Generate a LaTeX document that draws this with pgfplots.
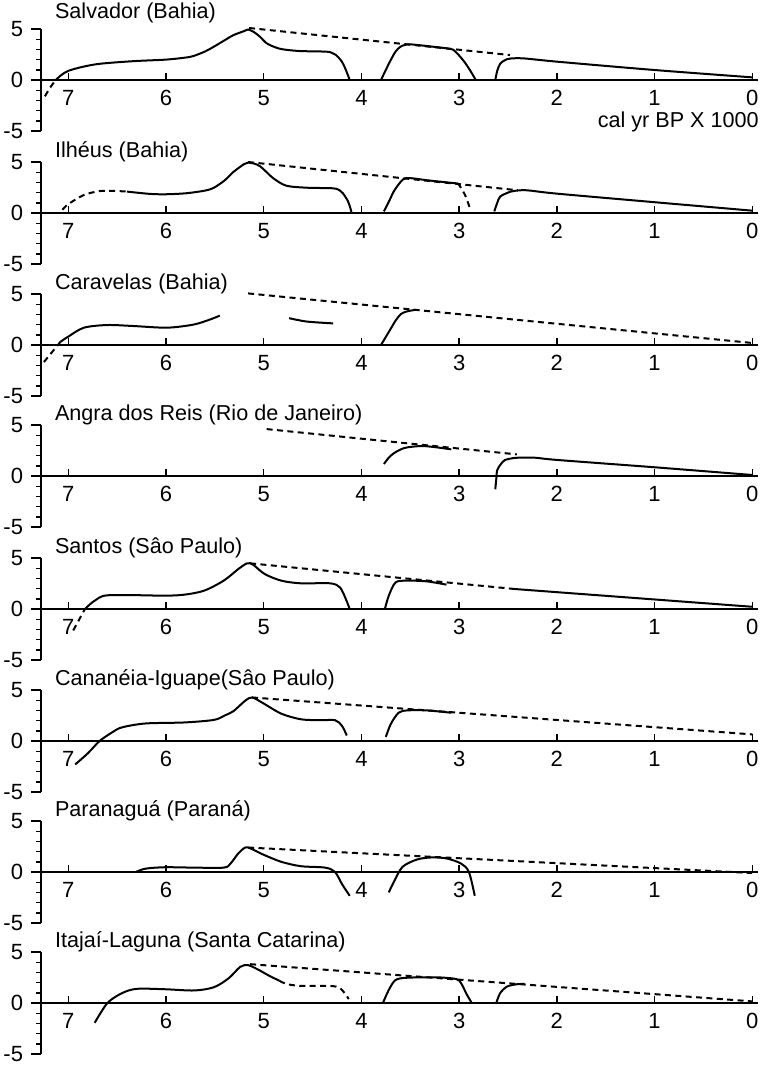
\documentclass[border=0pt]{standalone}
\usepackage{fontspec}
\setmainfont{Liberation Sans}
\usepackage{pgfplots}
\pgfplotsset{compat=1.18}
\pgfplotsset{
  panel/.style={x=48.85pt, y=5.1pt, x dir=reverse,
    xmin=-0.06, xmax=7.28, ymin=-5, ymax=5,
    axis lines=none, ticks=none, clip=false, anchor=south west},
  sol/.style={black, line width=1pt, smooth, tension=0.5, no marks},
  das/.style={sol, dash pattern=on 3pt off 2.2pt},
}
\newcommand\tickfont{\fontsize{11}{12}\selectfont}
\newcommand\titlefont{\fontsize{10.8}{12}\selectfont}
\newcommand\frameit[2]{%
  \draw[line width=0.95pt] (axis cs:7.28,-5) -- (axis cs:7.28,5);
  \draw[line width=0.95pt] (axis cs:7.3824,0) -- (axis cs:-0.06,0);
  \draw[line width=0.95pt] (axis cs:7.28,5) -- (axis cs:7.3824,5);
  \draw[line width=0.95pt] (axis cs:7.28,-5) -- (axis cs:7.3824,-5);
  \pgfplotsinvokeforeach{-4,-3,-2,-1,1,2,3,4}{\draw[line width=0.7pt] (axis cs:7.28,##1) -- (axis cs:7.335,##1);}
  \pgfplotsinvokeforeach{0,1,2,3,4,5,6,7}{%
    \draw[line width=0.7pt] (axis cs:##1,0) -- (axis cs:##1,0.7);
    \node[anchor=north, inner sep=0, font=\tickfont] at (axis cs:##1,-0.98) {##1};}
  \node[anchor=east, inner sep=0, font=\tickfont] at (axis cs:7.46,5) {5};
  \node[anchor=east, inner sep=0, font=\tickfont] at (axis cs:7.46,0) {0};
  \node[anchor=east, inner sep=0, font=\tickfont] at (axis cs:7.46,-5) {-5};
  \node[anchor=base west, inner sep=0, font=\titlefont] at (axis cs:7.14,#2) {#1};
}
\begin{document}
\begin{tikzpicture}
% ---------- 1 Salvador
\begin{axis}[panel, at={(20.5pt,-65.5pt)}]
\frameit{Salvador (Bahia)}{6.0}
\node[anchor=base east, inner sep=0, font=\titlefont] at (axis cs:-0.07,-4.7) {cal yr BP X 1000};
\addplot[das] coordinates {(7.24,-1.6) (7.19,-0.8) (7.13,0)};
\addplot[sol] coordinates {(7.13,0) (7.07,0.5) (7.0,0.9) (6.85,1.3) (6.67,1.6) (6.33,1.85) (6.0,2.0) (5.8,2.2) (5.72,2.35) (5.6,2.8) (5.51,3.27) (5.4,3.9) (5.31,4.4) (5.2,4.8) (5.16,4.95) (5.1,4.7) (5.04,4.25) (4.97,3.6) (4.88,3.2) (4.80,3.0) (4.63,2.84) (4.36,2.78) (4.3,2.65) (4.26,2.45) (4.2,1.8) (4.16,1.0) (4.12,0)};
\addplot[das] coordinates {(5.15,5.1) (2.48,2.45)};
\addplot[sol] coordinates {(3.80,0) (3.75,1.0) (3.70,1.96) (3.65,2.8) (3.60,3.27) (3.55,3.45) (3.50,3.5) (3.3,3.3) (3.09,3.05) (3.04,2.8) (2.99,2.29) (2.94,1.7) (2.89,0.98) (2.86,0.5) (2.83,0)};
\addplot[sol] coordinates {(2.63,0) (2.61,0.9) (2.58,1.6) (2.53,1.95) (2.48,2.1) (2.34,2.12) (2.0,1.8) (1.0,0.98) (0.0,0.26)};
\end{axis}
% ---------- 2 Ilheus
\begin{axis}[panel, at={(20.5pt,-132pt)}]
\frameit{Ilhéus (Bahia)}{5.4}
\addplot[das] coordinates {(7.06,0.32) (7.0,0.87) (6.84,1.77) (6.67,2.16) (6.5,2.15) (6.40,2.1)};
\addplot[sol] coordinates {(6.40,2.1) (6.16,1.87) (5.99,1.84) (5.79,1.94) (5.6,2.2) (5.51,2.48) (5.4,3.2) (5.31,4.03) (5.2,4.8) (5.16,4.94) (5.1,4.85) (5.04,4.6) (4.97,4.0) (4.90,3.39) (4.77,2.68) (4.56,2.48) (4.29,2.42) (4.22,2.2) (4.19,1.94) (4.14,1.2) (4.12,0.7) (4.10,0)};
\addplot[das] coordinates {(5.16,5.0) (2.40,2.23)};
\addplot[sol] coordinates {(3.77,0.16) (3.72,1.1) (3.67,2.1) (3.62,2.8) (3.57,3.32) (3.5,3.42) (3.3,3.18) (3.02,2.9)};
\addplot[das] coordinates {(3.02,2.9) (3.0,2.74) (2.94,1.77) (2.89,0.48)};
\addplot[sol] coordinates {(2.64,0.16) (2.61,1.0) (2.58,1.61) (2.50,2.0) (2.44,2.16) (2.31,2.23) (2.0,1.9) (1.0,1.06) (0.0,0.23)};
\end{axis}
% ---------- 3 Caravelas
\begin{axis}[panel, at={(20.5pt,-198pt)}]
\frameit{Caravelas (Bahia)}{5.4}
\addplot[das] coordinates {(7.25,-1.67) (7.08,0.32)};
\addplot[sol] coordinates {(7.08,0.32) (7.0,0.83) (6.84,1.7) (6.6,1.96) (6.33,1.86) (5.99,1.7) (5.72,2.0) (5.55,2.5) (5.45,2.88)};
\addplot[sol] coordinates {(4.74,2.63) (4.56,2.3) (4.29,2.12)};
\addplot[das] coordinates {(5.16,5.06) (0.0,0.2)};
\addplot[sol] coordinates {(3.80,0) (3.75,0.8) (3.70,1.6) (3.65,2.4) (3.60,3.0) (3.55,3.25) (3.48,3.4) (3.44,3.45)};
\end{axis}
% ---------- 4 Angra
\begin{axis}[panel, at={(20.5pt,-263.5pt)}]
\frameit{Angra dos Reis (Rio de Janeiro)}{5.4}
\addplot[das] coordinates {(4.97,4.6) (2.41,2.12)};
\addplot[sol] coordinates {(3.77,1.18) (3.72,1.8) (3.67,2.22) (3.60,2.6) (3.53,2.81) (3.38,2.94) (3.23,2.81) (3.08,2.61)};
\addplot[sol] coordinates {(2.63,-1.3) (2.62,-0.3) (2.61,0.59) (2.57,1.2) (2.53,1.57) (2.45,1.75) (2.38,1.8) (2.23,1.8) (1.99,1.57) (0.99,0.85) (0.0,0.1)};
\end{axis}
% ---------- 5 Santos
\begin{axis}[panel, at={(20.5pt,-330pt)}]
\frameit{Santos (Sâo Paulo)}{5.4}
\addplot[das] coordinates {(6.95,-2.1) (6.89,-1.05) (6.83,0)};
\addplot[sol] coordinates {(6.83,0) (6.78,0.45) (6.73,0.82) (6.63,1.31) (6.4,1.37) (6.01,1.31) (5.81,1.41) (5.61,1.8) (5.41,2.78) (5.26,3.92) (5.17,4.48) (5.11,4.35) (4.99,3.43) (4.82,2.78) (4.62,2.52) (4.32,2.52) (4.22,2.12) (4.16,0.98) (4.12,0)};
\addplot[das] coordinates {(5.14,4.48) (2.43,1.96)};
\addplot[sol] coordinates {(3.76,0) (3.72,1.31) (3.65,2.61) (3.53,2.78) (3.33,2.71) (3.13,2.39)};
\addplot[sol] coordinates {(2.43,1.96) (0.0,0.22)};
\end{axis}
% ---------- 6 Cananeia
\begin{axis}[panel, at={(20.5pt,-396pt)}]
\frameit{Cananéia-Iguape(Sâo Paulo)}{5.4}
\addplot[sol] coordinates {(6.93,-2.3) (6.80,-1.2) (6.68,0) (6.55,0.86) (6.45,1.34) (6.21,1.72) (5.81,1.82) (5.51,2.07) (5.40,2.5) (5.31,2.93) (5.19,3.95) (5.12,4.27) (5.01,3.73) (4.82,2.68) (4.62,2.13) (4.42,2.04) (4.27,2.04) (4.20,1.5) (4.15,0.54)};
\addplot[das] coordinates {(5.12,4.27) (0.0,0.65)};
\addplot[sol] coordinates {(3.75,0.4) (3.70,1.66) (3.62,2.77) (3.53,3.0) (3.33,3.0) (3.08,2.77)};
\end{axis}
% ---------- 7 Paranagua
\begin{axis}[panel, at={(20.5pt,-461.5pt)}]
\frameit{Paranaguá (Paraná)}{5.4}
\addplot[sol] coordinates {(6.31,0) (6.21,0.33) (6.01,0.47) (5.71,0.43) (5.41,0.43) (5.34,0.83) (5.26,1.83) (5.19,2.4) (5.14,2.33) (5.01,1.73) (4.82,1.0) (4.62,0.57) (4.37,0.43) (4.27,0) (4.20,-1.17) (4.12,-2.33)};
\addplot[das] coordinates {(5.16,2.4) (0.0,-0.1)};
\addplot[sol] coordinates {(3.72,-2.0) (3.67,-1.0) (3.58,0.5) (3.43,1.23) (3.28,1.43) (3.13,1.33) (2.98,0.83) (2.90,0) (2.84,-2.33)};
\end{axis}
% ---------- 8 Itajai
\begin{axis}[panel, at={(20.5pt,-527pt)}]
\frameit{Itajaí-Laguna (Santa Catarina)}{5.4}
\addplot[sol] coordinates {(6.73,-1.94) (6.60,0) (6.45,0.97) (6.30,1.39) (6.01,1.35) (5.71,1.23) (5.51,1.55) (5.36,2.42) (5.24,3.55) (5.16,3.71) (5.06,3.29) (4.94,2.65) (4.84,2.19)};
\addplot[das] coordinates {(4.84,2.19) (4.77,1.87) (4.62,1.68) (4.32,1.68) (4.22,1.45) (4.16,0.81) (4.13,0.39)};
\addplot[das] coordinates {(5.14,3.81) (0.0,0.16)};
\addplot[sol] coordinates {(3.78,0) (3.72,1.29) (3.65,2.26) (3.53,2.48) (3.23,2.52) (3.03,2.35) (2.98,1.94) (2.92,0.81) (2.87,0)};
\addplot[sol] coordinates {(2.62,0) (2.58,0.97) (2.51,1.61) (2.41,1.84) (2.33,1.87)};
\end{axis}
\pgfresetboundingbox
\path[use as bounding box] (0,0) rectangle (380.5pt,-533pt);
\end{tikzpicture}
\end{document}
